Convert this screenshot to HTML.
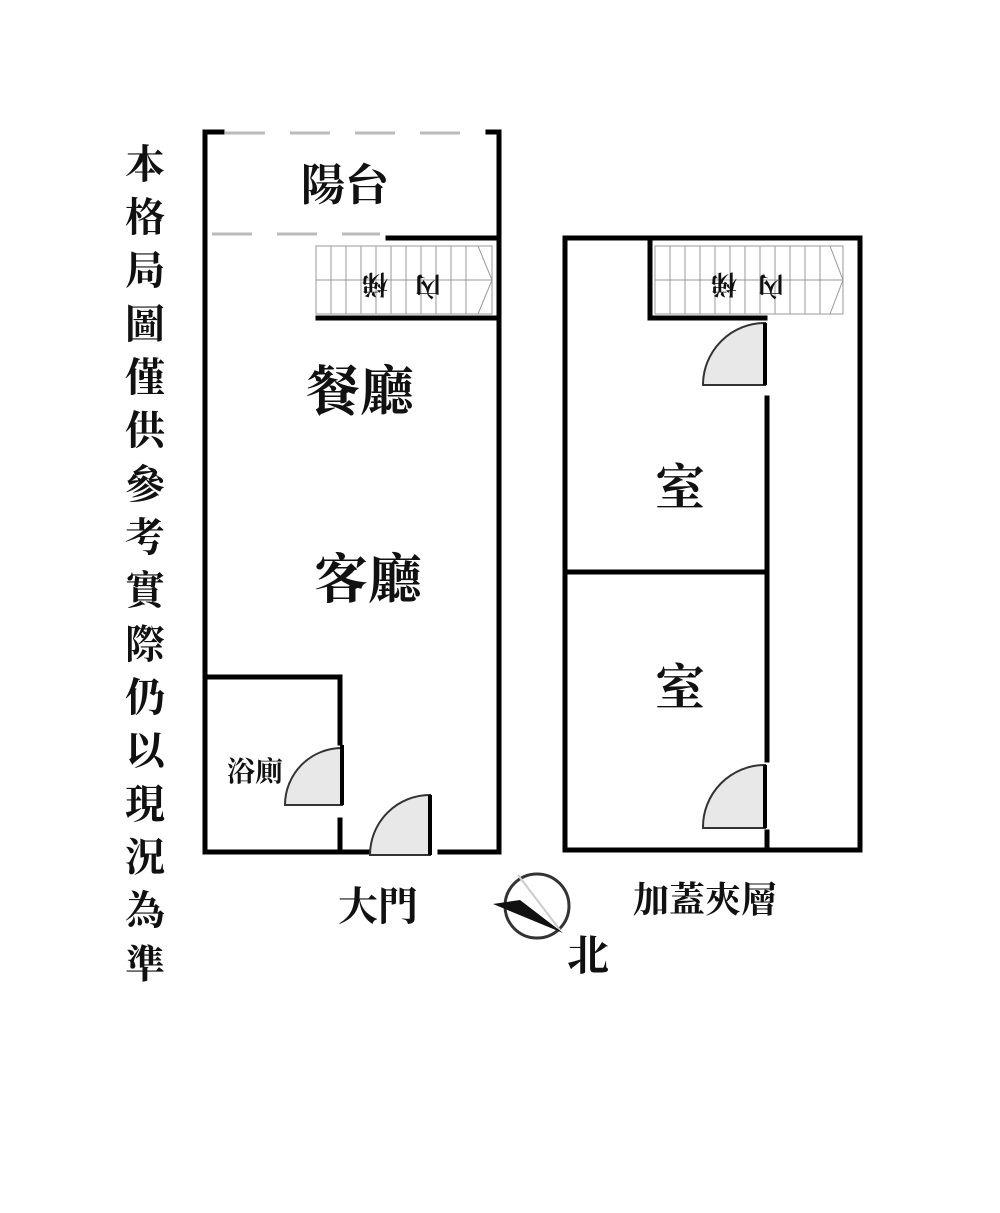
<!DOCTYPE html>
<html><head><meta charset="utf-8"><style>
html,body{margin:0;padding:0;background:#fff;}
svg{display:block}
text{font-family:"Liberation Serif","Noto Serif CJK SC","Noto Sans CJK TC",serif;font-weight:bold;fill:#111}
</style></head><body>
<svg width="1000" height="1213" viewBox="0 0 1000 1213" xmlns="http://www.w3.org/2000/svg">
<g stroke="#000" stroke-width="5" fill="none" stroke-linecap="square">
<!-- left unit -->
<path d="M222 132 H205 V852 H368"/>
<path d="M440 852 H499 V132 H488"/>
<path d="M388 238 H499"/>
<path d="M318 318 H499"/>
<path d="M205 677 H340 V743"/>
<path d="M340 820 V852"/>
<!-- right unit -->
<path d="M565 238 H860 V850 H767"/>
<path d="M565 238 V850 H765"/>
<path d="M650 238 V318 H765"/>
<path d="M767 398 V760"/>
<path d="M767 832 V850"/>
<path d="M565 572 H767"/>
</g>
<!-- window dashes -->
<g stroke="#bbb" stroke-width="3" stroke-dasharray="40 25">
<line x1="225" y1="133" x2="485" y2="133"/>
<line x1="212" y1="234" x2="380" y2="234"/>
</g>
<!-- stairs -->
<g stroke="#999" stroke-width="1" fill="none">
<rect x="316" y="246" width="176" height="68"/>
<line x1="316" y1="280" x2="492" y2="280"/>
<path d="M331 246V314M346 246V314M361 246V314M376 246V314M391 246V314M406 246V314M421 246V314M436 246V314M451 246V314M466 246V314M478 246 L492 280 L478 314"/>
<rect x="655" y="246" width="188" height="68"/>
<line x1="655" y1="280" x2="843" y2="280"/>
<path d="M670 246V314M685 246V314M700 246V314M715 246V314M730 246V314M745 246V314M760 246V314M775 246V314M790 246V314M805 246V314M820 246V314M830 246 L843 280 L830 314"/>
</g>
<g font-size="26">
<text transform="translate(428,283) rotate(180)" text-anchor="middle" dominant-baseline="middle">內</text>
<text transform="translate(375,281) rotate(180)" text-anchor="middle" dominant-baseline="middle">梯</text>
<text transform="translate(771,283) rotate(180)" text-anchor="middle" dominant-baseline="middle">內</text>
<text transform="translate(724,281) rotate(180)" text-anchor="middle" dominant-baseline="middle">梯</text>
</g>
<!-- doors -->
<g fill="#e8e8e8" stroke="#333" stroke-width="2">
<path d="M430 855 V795 A60 60 0 0 0 370 855 Z"/>
<path d="M342 805 V748 A57 57 0 0 0 285 805 Z"/>
<path d="M765 385 V323 A62 62 0 0 0 703 385 Z"/>
<path d="M765 828 V765 A62 62 0 0 0 703 828 Z"/>
</g>
<g stroke="#000" stroke-width="4">
<line x1="430" y1="795" x2="430" y2="855"/>
<line x1="342" y1="745" x2="342" y2="805"/>
<line x1="765" y1="323" x2="765" y2="385"/>
<line x1="765" y1="765" x2="765" y2="828"/>
</g>
<!-- labels -->
<text x="345" y="200" font-size="44" text-anchor="middle">陽台</text>
<text x="360" y="410" font-size="54" text-anchor="middle">餐廳</text>
<text x="368" y="598" font-size="54" text-anchor="middle">客廳</text>
<text x="255" y="781" font-size="28" text-anchor="middle">浴廁</text>
<text x="378" y="920" font-size="40" text-anchor="middle">大門</text>
<text x="705" y="912" font-size="36" text-anchor="middle">加蓋夾層</text>
<text x="680" y="505" font-size="50" text-anchor="middle">室</text>
<text x="680" y="705" font-size="50" text-anchor="middle">室</text>
<text x="588" y="970" font-size="42" text-anchor="middle">北</text>
<!-- compass -->
<circle cx="537" cy="906" r="32" fill="none" stroke="#333" stroke-width="3"/>
<line x1="518" y1="875" x2="560" y2="930" stroke="#ccc" stroke-width="2"/>
<path d="M493 904 L520 900 L563 933 Z" fill="#111"/>
<!-- vertical text -->
<g font-size="40" text-anchor="middle">
<text x="145" y="178">本</text>
<text x="145" y="231">格</text>
<text x="145" y="284">局</text>
<text x="145" y="338">圖</text>
<text x="145" y="391">僅</text>
<text x="145" y="444">供</text>
<text x="145" y="498">參</text>
<text x="145" y="551">考</text>
<text x="145" y="604">實</text>
<text x="145" y="658">際</text>
<text x="145" y="711">仍</text>
<text x="145" y="764">以</text>
<text x="145" y="818">現</text>
<text x="145" y="871">況</text>
<text x="145" y="924">為</text>
<text x="145" y="978">準</text>
</g>
</svg>
</body></html>
